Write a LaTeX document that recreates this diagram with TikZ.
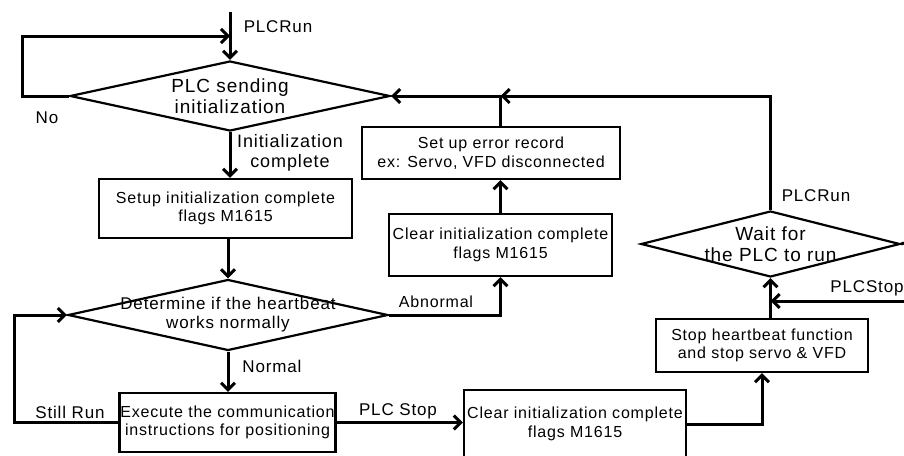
\documentclass[tikz,border=0pt]{standalone}
\usepackage{fontspec}
\setmainfont{Liberation Sans}[LetterSpace=5]
\usetikzlibrary{shapes.geometric,arrows.meta}

\begin{document}
\begin{tikzpicture}[
    x=1pt, y=-1pt,
    stepbox/.style={draw, line width=2.2pt, align=center, inner sep=1pt, font=\fontsize{16}{18.5}\selectfont},
    decision/.style={draw, diamond, line width=2.2pt, align=center, inner sep=0pt, inner xsep=-40pt, font=\fontsize{17}{19}\selectfont},
    arrow/.style={-{Straight Barb[length=7pt,width=14pt]}, line width=3pt},
    flow/.style={line width=3pt},
    tag/.style={font=\fontsize{17}{20}\selectfont, align=center}
]
\useasboundingbox (0,0) rectangle (904,455);
\clip (0,0) rectangle (904,455);

\node[decision, aspect=4.5, minimum width=320pt, minimum height=70pt, font=\fontsize{19}{21}\selectfont] (init) at (230,96) {PLC sending\\initialization};
\node[stepbox, minimum width=253pt, minimum height=59pt] (setflag) at (225.5,208.5) {Setup initialization complete\\flags M1615};
\node[decision, aspect=4.5, minimum width=320pt, minimum height=71pt] (heartbeat) at (228,315) {Determine if the heartbeat\\works normally};
\node[stepbox, minimum width=213pt, minimum height=59pt] (execute) at (227.5,422.5) {Execute the communication\\instructions for positioning};
\node[stepbox, minimum width=222pt, minimum height=68pt] (clearstop) at (575,424) {Clear initialization complete\\flags M1615};
\node[stepbox, minimum width=212pt, minimum height=53pt] (stophb) at (762,345.5) {Stop heartbeat function\\and stop servo \& VFD};
\node[decision, aspect=3.9, minimum width=259pt, minimum height=66pt, font=\fontsize{19}{21}\selectfont] (waitrun) at (770.5,244) {Wait for\\the PLC to run};
\node[stepbox, minimum width=223pt, minimum height=62pt] (clearerr) at (500.5,245) {Clear initialization complete\\flags M1615};
\node[stepbox, minimum width=258pt, minimum height=52pt] (errrec) at (491,153) {Set up error record\\ex: Servo, VFD disconnected};

\coordinate (start) at (230,12);
\coordinate (loopin) at (230,36);
\coordinate (stopin) at (904,301);
\coordinate (runout) at (904,243);
\coordinate (join) at (500.5,96);

\draw[arrow] (start) -- (init.north);
\draw[arrow] (init.west) -- (22,96) |- (loopin);
\draw[arrow] (init.south) -- (setflag.north -| init.south);
\draw[arrow] (setflag.south -| heartbeat.north) -- (heartbeat.north);
\draw[arrow] (heartbeat.south) -- (execute.north -| heartbeat.south);
\draw[arrow] (execute.west) -- (14,422.5) |- (heartbeat.west);
\draw[arrow] (execute.east) -- (execute.east -| clearstop.west);
\draw[arrow] (clearstop.east) -| (stophb.south);
\draw[arrow] (stophb.north -| waitrun.south) -- (waitrun.south);
\draw[arrow] (stopin) -- (stopin -| waitrun.south);
\draw[flow] (waitrun.east) -- (runout);
\draw[arrow] (waitrun.north) |- (join);
\draw[arrow] (heartbeat.east) -| (clearerr.south);
\draw[arrow] (clearerr.north) -- (clearerr.north |- errrec.south);
\draw[arrow] (errrec.north -| join) -- (join) -- (init.east);

\node[tag] (lrun) at (278,27) {PLCRun};
\node[tag] (lno) at (47,118) {No};
\node[tag, font=\fontsize{18}{19.5}\selectfont] (ldone) at (290,153) {Initialization\\complete};
\node[tag] (lnormal) at (272,366) {Normal};
\node[tag] (lstill) at (70,412) {Still Run};
\node[tag] (lstop) at (398,411) {PLC Stop};
\node[tag, font=\fontsize{16}{18}\selectfont] (labn) at (436,302) {Abnormal};
\node[tag] (lrun2) at (816,196) {PLCRun};
\node[tag] (lstop2) at (867,288) {PLCStop};
\end{tikzpicture}
\end{document}
